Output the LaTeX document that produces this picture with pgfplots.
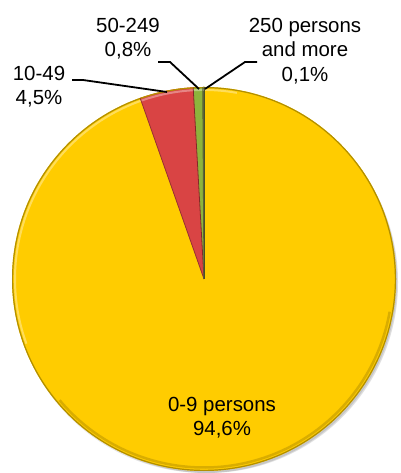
\documentclass[border=0pt]{standalone}
\usepackage{pgfplots}
\pgfplotsset{compat=1.18}
\usepackage{pgfplotstable}
\usepackage{fontspec}
\setmainfont{Liberation Sans}

\definecolor{pieyellow}{HTML}{FFCC00}
\definecolor{piered}{HTML}{D94444}
\definecolor{piegreen}{HTML}{8DB43C}
\definecolor{piedark}{HTML}{5B6436}

% share of enterprises by size class, in %
\pgfplotstableread{
value
94.6
4.5
0.8
0.1
}\piedata

\begin{document}
\begin{tikzpicture}
\pgfplotstablegetelem{0}{value}\of\piedata \let\vA\pgfplotsretval
\pgfplotstablegetelem{1}{value}\of\piedata \let\vB\pgfplotsretval
\pgfplotstablegetelem{2}{value}\of\piedata \let\vC\pgfplotsretval
\pgfplotstablegetelem{3}{value}\of\piedata \let\vD\pgfplotsretval
% angles, starting at the top and running clockwise
\pgfmathsetmacro\aA{90}
\pgfmathsetmacro\aB{\aA-3.6*\vA}
\pgfmathsetmacro\aC{\aB-3.6*\vB}
\pgfmathsetmacro\aD{\aC-3.6*\vC}
\pgfmathsetmacro\aE{\aD-3.6*\vD}
\def\R{192bp}
\begin{axis}[
    x=1bp, y=1bp,
    xmin=0, xmax=400, ymin=0, ymax=473,
    hide axis, scale only axis, clip=false,
]
% soft shadow
\fill[black, opacity=0.06] (axis cs:208,190) circle[radius=190bp];
\fill[black, opacity=0.08] (axis cs:207,191) circle[radius=191bp];
\fill[black, opacity=0.10] (axis cs:205,192) circle[radius=192bp];
% wedges
\fill[pieyellow] (axis cs:204,194) -- ++(\aA:\R) arc[start angle=\aA, end angle={\aB-360}, radius=\R] -- cycle;
\fill[piered] (axis cs:204,194) -- ++(\aB:\R) arc[start angle=\aB, end angle=\aC, radius=\R] -- cycle;
\fill[piegreen] (axis cs:204,194) -- ++(\aC:\R) arc[start angle=\aC, end angle=\aD, radius=\R] -- cycle;
\fill[piedark] (axis cs:204,194) -- ++(\aD:\R) arc[start angle=\aD, end angle=\aE, radius=\R] -- cycle;
% bevel
\draw[pieyellow!70!black, line width=1.2bp] (axis cs:204,194) circle[radius=191.4bp];
\draw[white, opacity=0.35, line width=2bp] (axis cs:204,194) ++(80:189bp) arc[start angle=80, end angle=200, radius=189bp];
\draw[black, opacity=0.15, line width=2.5bp] (axis cs:204,194) ++(220:188.5bp) arc[start angle=220, end angle=350, radius=188.5bp];
\draw[piered!70!black, line width=0.8bp] (axis cs:204,194) -- ++(\aB:\R);
\draw[piered!60!black, line width=0.8bp] (axis cs:204,194) -- ++(\aC:\R);
\draw[piedark, line width=1bp] (axis cs:204,194) -- ++(\aD:\R);
\draw[piedark!80!black, line width=1bp] (axis cs:204,194) -- ++(\aE:\R);
% leader lines
\draw[black, line width=1.8bp] (axis cs:72,393) -- (axis cs:83,393) -- (axis cs:167,381);
\draw[black, line width=1.8bp] (axis cs:158,411) -- (axis cs:170,411) -- (axis cs:199,384);
\draw[black, line width=1.8bp] (axis cs:257,411) -- (axis cs:245,411) -- (axis cs:205,384);
% labels
\begin{scope}[every node/.style={anchor=base, inner sep=0pt, font=\fontsize{20.5}{24}\selectfont}]
\node at (axis cs:39,392) {10-49};
\node at (axis cs:39,368) {4,5\%};
\node at (axis cs:128,440) {50-249};
\node at (axis cs:128,416) {0,8\%};
\node at (axis cs:305,440) {250 persons};
\node at (axis cs:305,416) {and more};
\node at (axis cs:305,391) {0,1\%};
\node at (axis cs:222,61) {0-9 persons};
\node at (axis cs:222,37) {94,6\%};
\end{scope}
\end{axis}
% arcs' control points widen the box: keep it to the axis area
\pgfresetboundingbox
\path (current axis.south west) rectangle (current axis.north east);
\end{tikzpicture}
\end{document}
